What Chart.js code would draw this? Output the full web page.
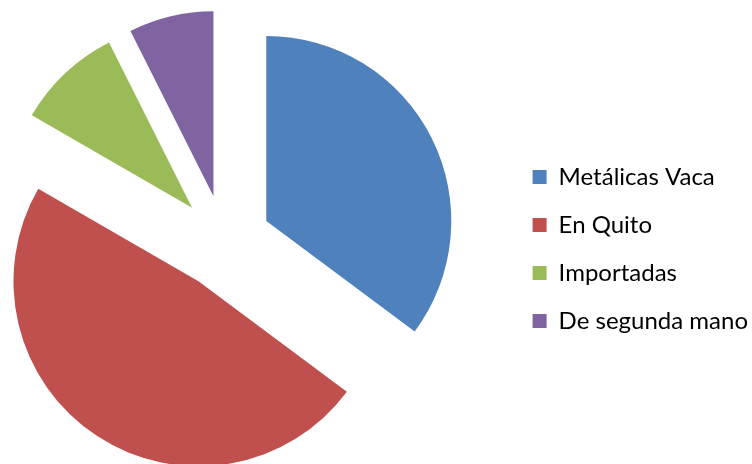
<!DOCTYPE html>
<html>
<head>
<meta charset="utf-8">
<script src="https://cdn.jsdelivr.net/npm/chart.js@4/dist/chart.umd.min.js"></script>
<style>
  html, body { margin: 0; padding: 0; background: #fff; }
  #wrap { width: 752px; height: 464px; }
</style>
</head>
<body>
<div id="wrap"><canvas id="pie"></canvas></div>
<script>
// data
const categories = ['Metálicas Vaca', 'En Quito', 'Importadas', 'De segunda mano']
const counts = [19, 26, 5, 4]
const colors = ['#4F81BD', '#C0504D', '#9BBB59', '#8064A2']

const explodeDistance = 47

// push every slice out along its own bisector (excel style explode)
const explodePlugin = {
  id: 'explode',
  afterDatasetUpdate(chart, args) {
    args.meta.data.forEach(arc => {
      const mid = (arc.startAngle + arc.endAngle) / 2
      arc.x += Math.cos(mid) * explodeDistance
      arc.y += Math.sin(mid) * explodeDistance
    })
  }
}

new Chart(document.getElementById('pie'), {
  type: 'pie',
  data: {
    labels: categories,
    datasets: [{
      data: counts,
      backgroundColor: colors,
      borderWidth: 0,
      radius: 185
    }]
  },
  options: {
    responsive: true,
    maintainAspectRatio: false,
    animation: false,
    events: [],
    layout: {
      padding: { left: 0, right: -6, top: 20, bottom: 0 }
    },
    plugins: {
      // empty title used only as a gap between pie and legend
      title: {
        display: true,
        text: '',
        position: 'right',
        weight: 500,
        fullSize: false,
        font: { size: 10 },
        padding: { top: 24, bottom: 24 }
      },
      legend: {
        position: 'right',
        maxWidth: 320,
        title: { display: true, text: '', font: { size: 10 }, padding: 1 },
        labels: {
          boxWidth: 14,
          boxHeight: 14,
          padding: 24,
          color: '#000',
          font: { family: 'Lato', size: 24 }
        }
      },
      tooltip: { enabled: false }
    }
  },
  plugins: [explodePlugin]
})
</script>
</body>
</html>
